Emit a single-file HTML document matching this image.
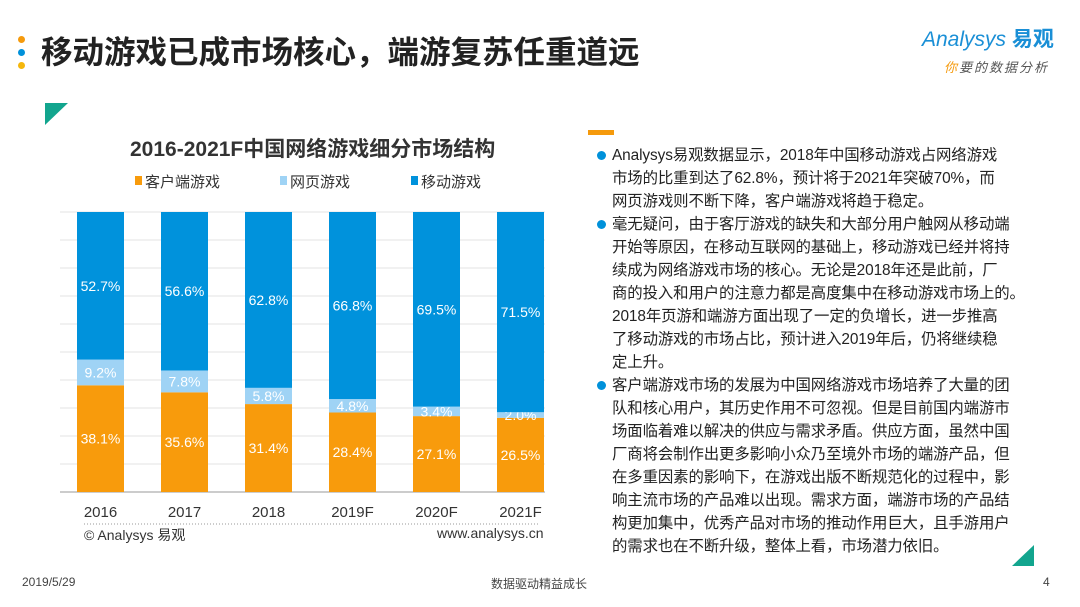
<!DOCTYPE html>
<html><head><meta charset="utf-8">
<style>
body{margin:0;width:1080px;height:607px;overflow:hidden;background:#fff;font-family:"Liberation Sans","Noto Sans CJK SC",sans-serif;position:relative}
.abs{position:absolute}
.t{white-space:nowrap}
#para div{position:absolute;left:612px;font-size:15.4px;color:#222;white-space:nowrap;line-height:23px;height:23px;letter-spacing:-0.1px}
.dot{position:absolute;width:9px;height:9px;border-radius:50%;background:#0091DA;left:597px}
</style></head><body>
<div class="abs" style="left:18px;top:36px">
<div style="width:7px;height:7px;border-radius:50%;background:#F59A0C;position:absolute;top:0"></div>
<div style="width:7px;height:7px;border-radius:50%;background:#0091DA;position:absolute;top:13px"></div>
<div style="width:7px;height:7px;border-radius:50%;background:#F5B70C;position:absolute;top:26px"></div>
</div>
<div class="abs t" style="left:41px;top:33px;font-size:31.5px;font-weight:bold;color:#222;line-height:38px">移动游戏已成市场核心，端游复苏任重道远</div>
<div class="abs t" style="left:922px;top:28px;font-size:21px;color:#1a8fd6;font-style:italic;line-height:24px">Analysys <b style="font-style:normal">易观</b></div>
<div class="abs t" style="left:944px;top:57px;font-size:13px;color:#555;font-style:italic;letter-spacing:2px"><span style="color:#F59A0C">你</span>要的数据分析</div>
<svg class="abs" style="left:0;top:0" width="1080" height="607">
<polygon points="45,103 68,103 45,125" fill="#12A58E"/>
<polygon points="1034,545 1034,566 1012,566" fill="#12A58E"/>
<rect x="588" y="130" width="26" height="5" fill="#F59A0C"/>
</svg>
<div class="abs t" style="left:130px;top:133px;font-size:21px;font-weight:bold;color:#333">2016-2021F中国网络游戏细分市场结构</div>
<svg id="chart" class="abs" style="left:0;top:0" width="580" height="560"></svg>
<div class="abs t" style="left:84px;top:525px;font-size:14px;color:#333">© Analysys 易观</div>
<div class="abs t" style="left:437px;top:525px;font-size:14px;color:#333">www.analysys.cn</div>
<div id="para">
<span class="dot" style="top:151px"></span>
<div style="top:144px">Analysys易观数据显示，2018年中国移动游戏占网络游戏</div>
<div style="top:167px">市场的比重到达了62.8%，预计将于2021年突破70%，而</div>
<div style="top:190px">网页游戏则不断下降，客户端游戏将趋于稳定。</div>
<span class="dot" style="top:220px"></span>
<div style="top:213px">毫无疑问，由于客厅游戏的缺失和大部分用户触网从移动端</div>
<div style="top:236px">开始等原因，在移动互联网的基础上，移动游戏已经并将持</div>
<div style="top:259px">续成为网络游戏市场的核心。无论是2018年还是此前，厂</div>
<div style="top:282px">商的投入和用户的注意力都是高度集中在移动游戏市场上的。</div>
<div style="top:305px">2018年页游和端游方面出现了一定的负增长，进一步推高</div>
<div style="top:328px">了移动游戏的市场占比，预计进入2019年后，仍将继续稳</div>
<div style="top:351px">定上升。</div>
<span class="dot" style="top:381px"></span>
<div style="top:374px">客户端游戏市场的发展为中国网络游戏市场培养了大量的团</div>
<div style="top:397px">队和核心用户，其历史作用不可忽视。但是目前国内端游市</div>
<div style="top:420px">场面临着难以解决的供应与需求矛盾。供应方面，虽然中国</div>
<div style="top:443px">厂商将会制作出更多影响小众乃至境外市场的端游产品，但</div>
<div style="top:466px">在多重因素的影响下，在游戏出版不断规范化的过程中，影</div>
<div style="top:489px">响主流市场的产品难以出现。需求方面，端游市场的产品结</div>
<div style="top:512px">构更加集中，优秀产品对市场的推动作用巨大，且手游用户</div>
<div style="top:535px">的需求也在不断升级，整体上看，市场潜力依旧。</div>
</div>
<div class="abs t" style="left:22px;top:575px;font-size:12px;color:#444">2019/5/29</div>
<div class="abs t" style="left:491px;top:575px;font-size:12px;color:#444">数据驱动精益成长</div>
<div class="abs t" style="left:1043px;top:575px;font-size:12px;color:#444">4</div>
<script>
const categories=["2016","2017","2018","2019F","2020F","2021F"];
const clientValues=[38.1,35.6,31.4,28.4,27.1,26.5];
const webValues=[9.2,7.8,5.8,4.8,3.4,2.0];
const mobileValues=[52.7,56.6,62.8,66.8,69.5,71.5];
const legendLabels=["客户端游戏","网页游戏","移动游戏"];
const colors=["#F89B0C","#9FD3F5","#0092DC"];
const svg=document.getElementById('chart');
const NS='http://www.w3.org/2000/svg';
const x0=60,x1=545,yTop=212,yBot=492,step=84,bw=47,firstC=100.5;
function y(v){return yBot-(v/100)*(yBot-yTop);}
function xc(i){return firstC+i*step;}
function mk(t,a){const e=document.createElementNS(NS,t);for(const k in a)e.setAttribute(k,a[k]);svg.appendChild(e);return e;}
for(let g=0;g<=10;g++){const l=mk('line',{x1:x0,x2:x1,y1:y(g*10),y2:y(g*10),stroke:g==0?'#bbb':'#e3e3e3','stroke-width':g==0?1.5:1});

}
const series=[clientValues,webValues,mobileValues];
const snames=['client','web','mobile'];
categories.forEach((c,i)=>{
 let base=0;
 series.forEach((s,k)=>{
  const v=s[i];
  const r=mk('rect',{x:xc(i)-bw/2,y:y(base+v),width:bw,height:y(base)-y(base+v),fill:colors[k]});
  
  
  const t=mk('text',{x:xc(i),y:y(base+v/2)+5,'text-anchor':'middle','font-size':14,fill:'#fff','font-family':'Liberation Sans, sans-serif'});
  t.textContent=v.toFixed(1)+'%';
  
  
  base+=v;
 });
 const tl=mk('text',{x:xc(i),y:517,'text-anchor':'middle','font-size':15,fill:'#333','font-family':'Liberation Sans, sans-serif'});
 tl.textContent=c;
 
 
});
const dl=mk('line',{x1:84,x2:538,y1:524,y2:524,stroke:'#999','stroke-dasharray':'1,2'});


const lx=[145,290,421];
legendLabels.forEach((n,k)=>{
 const r=mk('rect',{x:lx[k]-10,y:176,width:7,height:9,fill:colors[k]});
 
 
 const t=mk('text',{x:lx[k],y:187,'font-size':15,fill:'#333','font-family':'Liberation Sans, Noto Sans CJK SC, sans-serif'});
 t.textContent=n;
 
 
});
</script>
</body></html>
